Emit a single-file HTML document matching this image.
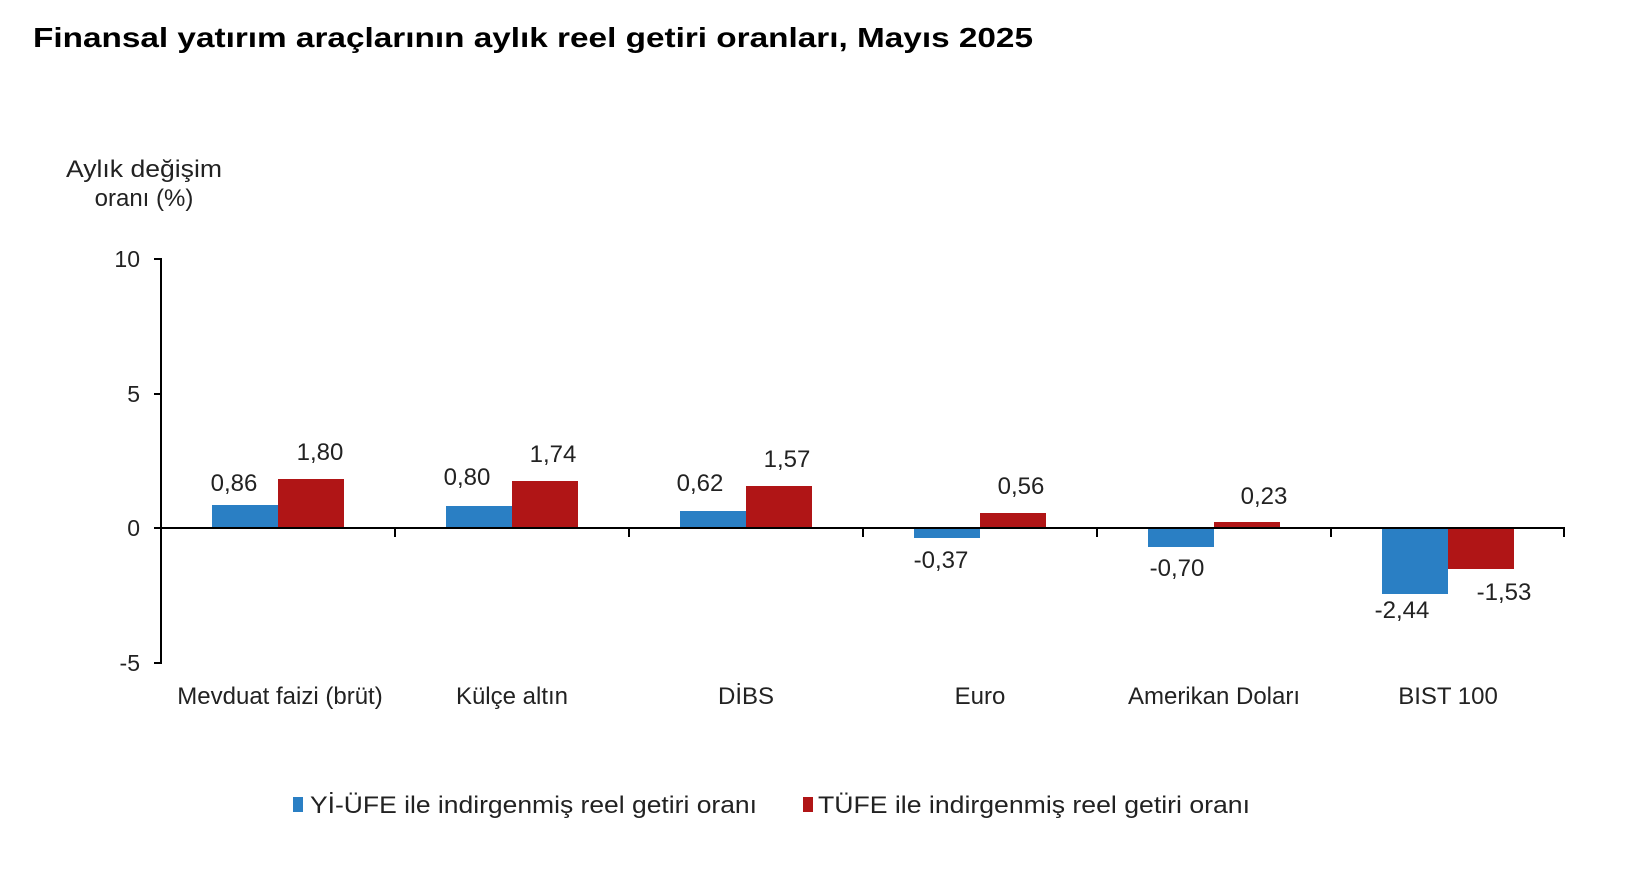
<!DOCTYPE html>
<html><head><meta charset="utf-8"><style>
body{margin:0;background:#fff;}
svg{display:block;font-family:"Liberation Sans",Arial,sans-serif;}
</style></head><body>
<svg width="1646" height="870" viewBox="0 0 1646 870">
<text x="33" y="47" font-size="28" font-weight="bold" fill="#000" textLength="1000" lengthAdjust="spacingAndGlyphs">Finansal yatırım araçlarının aylık reel getiri oranları, Mayıs 2025</text>
<g font-size="24" fill="#222">
<text x="144" y="177" text-anchor="middle" textLength="156" lengthAdjust="spacingAndGlyphs">Aylık değişim</text>
<text x="144" y="206" text-anchor="middle">oranı (%)</text>
</g>
<line x1="161" y1="258" x2="161" y2="664" stroke="#000" stroke-width="2"/>
<g stroke="#000" stroke-width="2">
<line x1="154" y1="259" x2="161" y2="259"/>
<line x1="154" y1="394" x2="161" y2="394"/>
<line x1="154" y1="528" x2="161" y2="528"/>
<line x1="154" y1="663" x2="161" y2="663"/>
</g>
<g font-size="23" fill="#222" text-anchor="end">
<text x="140" y="267">10</text>
<text x="140" y="402">5</text>
<text x="140" y="536">0</text>
<text x="140" y="671">-5</text>
</g>
<g>
<rect x="212" y="505" width="66" height="23" fill="#2a7fc4"/>
<rect x="278" y="479" width="66" height="49" fill="#b01516"/>
<rect x="446" y="506" width="66" height="22" fill="#2a7fc4"/>
<rect x="512" y="481" width="66" height="47" fill="#b01516"/>
<rect x="680" y="511" width="66" height="17" fill="#2a7fc4"/>
<rect x="746" y="486" width="66" height="42" fill="#b01516"/>
<rect x="914" y="528" width="66" height="10" fill="#2a7fc4"/>
<rect x="980" y="513" width="66" height="15" fill="#b01516"/>
<rect x="1148" y="528" width="66" height="19" fill="#2a7fc4"/>
<rect x="1214" y="522" width="66" height="6" fill="#b01516"/>
<rect x="1382" y="528" width="66" height="66" fill="#2a7fc4"/>
<rect x="1448" y="528" width="66" height="41" fill="#b01516"/>
</g>
<line x1="161" y1="528" x2="1565" y2="528" stroke="#000" stroke-width="2"/>
<g stroke="#000" stroke-width="2">
<line x1="395" y1="528" x2="395" y2="537"/>
<line x1="629" y1="528" x2="629" y2="537"/>
<line x1="863" y1="528" x2="863" y2="537"/>
<line x1="1097" y1="528" x2="1097" y2="537"/>
<line x1="1331" y1="528" x2="1331" y2="537"/>
<line x1="1564" y1="528" x2="1564" y2="537"/>
</g>
<g font-size="24" fill="#222" text-anchor="middle">
<text x="234" y="491">0,86</text>
<text x="320" y="460">1,80</text>
<text x="467" y="485">0,80</text>
<text x="553" y="462">1,74</text>
<text x="700" y="491">0,62</text>
<text x="787" y="467">1,57</text>
<text x="941" y="568">-0,37</text>
<text x="1021" y="494">0,56</text>
<text x="1177" y="576">-0,70</text>
<text x="1264" y="504">0,23</text>
<text x="1402" y="618">-2,44</text>
<text x="1504" y="600">-1,53</text>
</g>
<g font-size="24" fill="#222" text-anchor="middle">
<text x="280" y="704">Mevduat faizi (brüt)</text>
<text x="512" y="704">Külçe altın</text>
<text x="746" y="704">DİBS</text>
<text x="980" y="704">Euro</text>
<text x="1214" y="704">Amerikan Doları</text>
<text x="1448" y="704">BIST 100</text>
</g>
<rect x="293" y="797" width="10" height="15" fill="#2a7fc4"/>
<text x="310" y="813" font-size="24" fill="#222" textLength="447" lengthAdjust="spacingAndGlyphs">Yİ-ÜFE ile indirgenmiş reel getiri oranı</text>
<rect x="803" y="797" width="10" height="15" fill="#b01516"/>
<text x="818" y="813" font-size="24" fill="#222" textLength="432" lengthAdjust="spacingAndGlyphs">TÜFE ile indirgenmiş reel getiri oranı</text>
</svg>
</body></html>
